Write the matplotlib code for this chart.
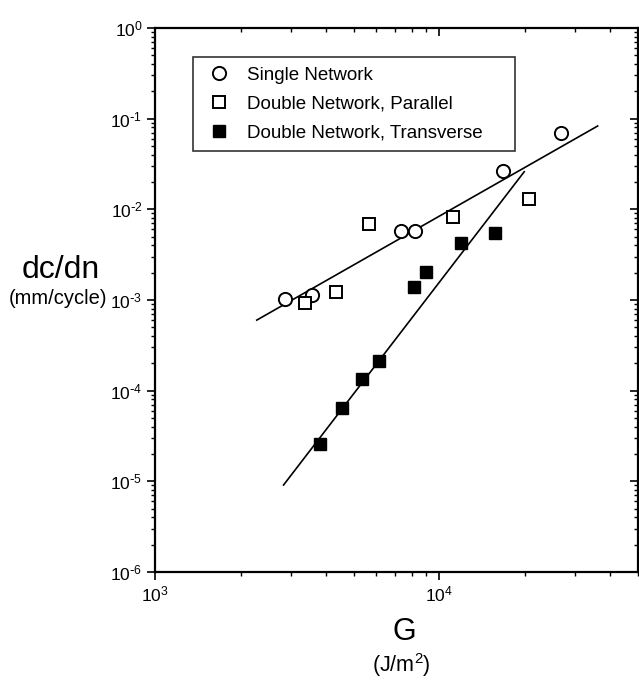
import matplotlib
matplotlib.use("Agg")
import matplotlib.pyplot as plt
import numpy as np
from matplotlib.ticker import LogLocator, NullFormatter, FuncFormatter

plt.rcParams['font.family'] = ['Liberation Sans', 'DejaVu Sans']
plt.rcParams['mathtext.default'] = 'regular'
plt.rcParams['axes.unicode_minus'] = False

# Data (G in J/m^2, dc/dn in mm/cycle)
single_G = [2870, 3580, 7330, 8230, 16750, 26700]
single_dcdn = [1.02e-3, 1.14e-3, 5.77e-3, 5.73e-3, 0.0265, 0.0695]

parallel_G = [3380, 4340, 5640, 11200, 20750]
parallel_dcdn = [9.2e-4, 1.24e-3, 6.9e-3, 8.17e-3, 0.0129]

transverse_G = [3810, 4540, 5350, 6150, 8150, 8975, 11910, 15740]
transverse_dcdn = [2.58e-5, 6.4e-5, 1.33e-4, 2.14e-4, 1.40e-3, 2.02e-3, 4.22e-3, 5.53e-3]

# Power-law fit lines (end points)
fit1_G = [2280, 36060]
fit1_dcdn = [6.0e-4, 0.083]
fit2_G = [2832, 19900]
fit2_dcdn = [9.1e-6, 0.026]


def pow10(v, pos):
    e = int(round(np.log10(v)))
    if e < 0:
        return r'$10^{\text{-}%d}$' % (-e)
    return r'$10^{%d}$' % e


fig = plt.figure(figsize=(6.39, 6.80), dpi=100)
ax = fig.add_axes([155/639, 1-572/680, (638-155)/639, (572-28)/680])
ax.set_xscale('log')
ax.set_yscale('log')
ax.set_xlim(1e3, 5e4)
ax.set_ylim(1e-6, 1e0)

ax.plot(fit1_G, fit1_dcdn, color='black', lw=1.2, zorder=2)
ax.plot(fit2_G, fit2_dcdn, color='black', lw=1.2, zorder=2)

ax.plot(single_G, single_dcdn, 'o', ms=9.5, mfc='white', mec='black', mew=1.4,
        label='Single Network', zorder=3)
ax.plot(parallel_G, parallel_dcdn, 's', ms=9, mfc='white', mec='black', mew=1.4,
        label='Double Network, Parallel', zorder=3)
ax.plot(transverse_G, transverse_dcdn, 's', ms=9, mfc='black', mec='black', mew=1.0,
        label='Double Network, Transverse', zorder=3)

for sp in ax.spines.values():
    sp.set_linewidth(1.6)

ax.xaxis.set_major_locator(LogLocator(base=10, numticks=10))
ax.xaxis.set_minor_locator(LogLocator(base=10, subs=range(2, 10), numticks=20))
ax.yaxis.set_major_locator(LogLocator(base=10, numticks=10))
ax.yaxis.set_minor_locator(LogLocator(base=10, subs=range(2, 10), numticks=20))
ax.xaxis.set_major_formatter(FuncFormatter(pow10))
ax.yaxis.set_major_formatter(FuncFormatter(pow10))
ax.xaxis.set_minor_formatter(NullFormatter())
ax.yaxis.set_minor_formatter(NullFormatter())
ax.tick_params(which='major', direction='out', length=5.5, width=1.2, labelsize=12.5, pad=3.5)
ax.tick_params(which='minor', direction='out', length=3.2, width=1.0)

# inward ticks on top and right
axt = ax.twiny()
axt.set_xscale('log'); axt.set_xlim(ax.get_xlim())
axt.xaxis.set_major_locator(LogLocator(base=10, numticks=10))
axt.xaxis.set_minor_locator(LogLocator(base=10, subs=range(2, 10), numticks=20))
axt.tick_params(which='major', direction='in', length=5.5, width=1.2, labeltop=False)
axt.tick_params(which='minor', direction='in', length=3.2, width=1.0)
axr = ax.twinx()
axr.set_yscale('log'); axr.set_ylim(ax.get_ylim())
axr.yaxis.set_major_locator(LogLocator(base=10, numticks=10))
axr.yaxis.set_minor_locator(LogLocator(base=10, subs=range(2, 10), numticks=20))
axr.tick_params(which='major', direction='in', length=5.5, width=1.2, labelright=False)
axr.tick_params(which='minor', direction='in', length=3.2, width=1.0)
for a in (axt, axr):
    for sp in a.spines.values():
        sp.set_visible(False)

# legend box: x 193..515, y 57..149 (pixels)
bx0 = (193-155)/483
bw = (515-193)/483
by1 = (572-57)/544
bh = (149-57)/544
leg = ax.legend(loc='upper left', bbox_to_anchor=(bx0, by1-bh, bw, bh), mode='expand',
                borderaxespad=0, frameon=True, fancybox=False, edgecolor='black',
                fontsize=13.5, handletextpad=0.6, labelspacing=0.63, borderpad=0.5,
                handlelength=1.8, numpoints=1)
leg.get_frame().set_linewidth(1.2)

fig.text(61/639, 1-270/680, 'dc/dn', fontsize=23, ha='center', va='center')
fig.text(58/639, 1-299/680, '(mm/cycle)', fontsize=14.5, ha='center', va='center')
fig.text(404/639, 1-632/680, 'G', fontsize=22, ha='center', va='center')
fig.text(401/639, 1-665/680, '(J/m$^2$)', fontsize=15.5, ha='center', va='center')

fig.savefig('out.png', dpi=100)
